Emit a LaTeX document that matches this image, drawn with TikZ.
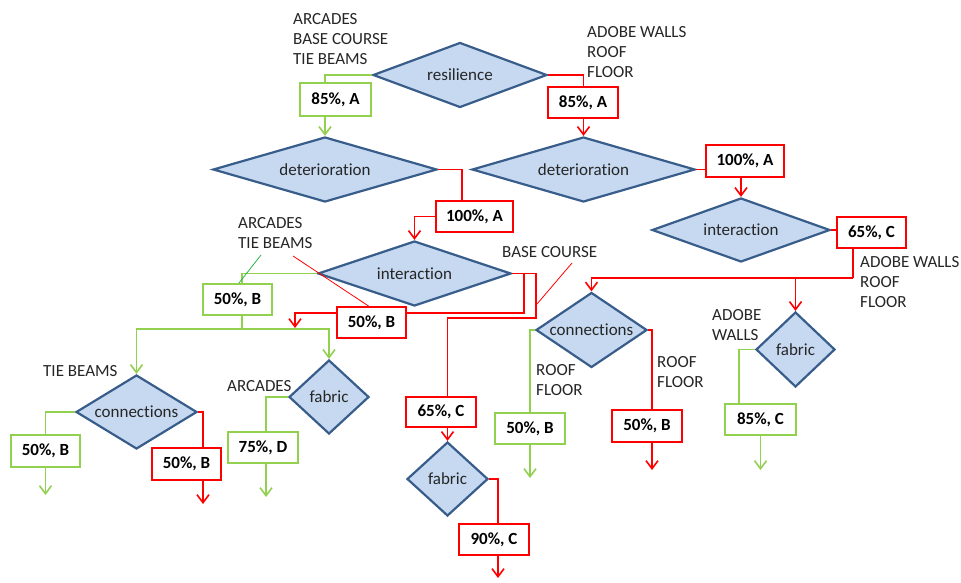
\documentclass[tikz,border=0pt]{standalone}
\usepackage{fontspec}
\setmainfont[Ligatures=NoCommon]{Carlito}
\usetikzlibrary{shapes.geometric,arrows.meta}
\definecolor{dfill}{RGB}{198,217,241}
\definecolor{ddraw}{RGB}{56,93,138}
\definecolor{gcol}{RGB}{146,208,80}
\definecolor{rcol}{RGB}{255,0,0}
\definecolor{tcol}{RGB}{38,38,38}
\definecolor{gthincol}{RGB}{40,180,70}
\tikzset{
  dia/.style n args={3}{shape=diamond, fill=dfill, draw=ddraw, line width=2.2pt, inner sep=0pt,
     minimum width=#1pt, minimum height=#2pt, aspect=#3, text=tcol, font=\fontsize{17}{20}\selectfont},
  gbox/.style n args={2}{draw=gcol, line width=2pt, fill=white, minimum width=#1pt, minimum height=#2pt,
     inner sep=0pt, font=\bfseries\fontsize{17}{20}\selectfont, text=black},
  rbox/.style n args={2}{draw=rcol, line width=2pt, fill=white, minimum width=#1pt, minimum height=#2pt,
     inner sep=0pt, font=\bfseries\fontsize{17}{20}\selectfont, text=black},
  gl/.style={draw=gcol, line width=1.6pt},
  rl/.style={draw=rcol, line width=1.6pt},
  ga/.style={gl, -{Straight Barb[length=8pt,width=12pt,line width=1.6pt]}},
  ra/.style={rl, -{Straight Barb[length=8pt,width=12pt,line width=1.6pt]}},
  gthin/.style={draw=gthincol, line width=0.8pt},
  rthin/.style={draw=rcol, line width=0.8pt},
  lab/.style={anchor=base west, inner sep=0pt, align=left, text=tcol, font=\fontsize{17}{20}\selectfont},
}
\begin{document}
\begin{tikzpicture}[x=1pt,y=-1pt]
\useasboundingbox[fill=white] (0,0) rectangle (961,583);
% diamonds
\node[dia={174}{65}{2.68}] (res) at (460,75) {resilience};
\node[dia={224}{65}{3.45}] (detL) at (325,169.5) {deterioration};
\node[dia={223}{65}{3.43}] (detR) at (583.5,169.5) {deterioration};
\node[dia={178}{64}{2.78}] (intR) at (741,230) {interaction};
\node[dia={193}{65}{2.97}] (intM) at (414.5,273.5) {interaction};
\node[dia={111}{75}{1.48}] (conM) at (591.5,330) {connections};
\node[dia={79}{75}{1.05}] (fabR) at (795.5,349.5) {fabric};
\node[dia={121}{74}{1.64}] (conL) at (136.5,412) {connections};
\node[dia={80}{74}{1.08}] (fabL) at (329,397) {fabric};
\node[dia={81}{74}{1.09}] (fabB) at (447.5,479) {fabric};
% boxes
\node[gbox={71}{33}] (g85a) at (335.5,99.5) {85\%, A};
\node[rbox={70}{31}] (r85a) at (583,102.5) {85\%, A};
\node[rbox={77}{31}] (r100m) at (474.5,216.5) {100\%, A};
\node[rbox={78}{32}] (r100r) at (745,161) {100\%, A};
\node[rbox={69}{31}] (r65r) at (871.5,232.5) {65\%, C};
\node[gbox={69}{31}] (g50m) at (237.5,299.5) {50\%, B};
\node[rbox={69}{31}] (r50m) at (371.5,322.5) {50\%, B};
\node[gbox={69}{32}] (g50l) at (45.5,451) {50\%, B};
\node[rbox={69}{32}] (r50l) at (186.5,464) {50\%, B};
\node[gbox={70}{31}] (g75d) at (263,447.5) {75\%, D};
\node[rbox={70}{30}] (r65m) at (441,412) {65\%, C};
\node[gbox={70}{31}] (g50c) at (530,428.5) {50\%, B};
\node[rbox={70}{32}] (r50c) at (647,426) {50\%, B};
\node[rbox={70}{31}] (r90c) at (494,539.5) {90\%, C};
\node[gbox={71}{31}] (g85c) at (760.5,419.5) {85\%, C};
% labels (anchor = baseline of last line)
\node[lab] (l1) at (293,65) {ARCADES\\BASE COURSE\\TIE BEAMS};
\node[lab] (l2) at (587,78) {ADOBE WALLS\\ROOF\\FLOOR};
\node[lab] (l3) at (238,248) {ARCADES\\TIE BEAMS};
\node[lab] (l4) at (502,257) {BASE COURSE};
\node[lab] (l5) at (860,307) {ADOBE WALLS\\ROOF\\FLOOR};
\node[lab] (l6) at (712,340) {ADOBE\\WALLS};
\node[lab] (l7) at (536,395) {ROOF\\FLOOR};
\node[lab] (l8) at (657,387) {ROOF\\FLOOR};
\node[lab] (l9) at (43,376) {TIE BEAMS};
\node[lab] (l10) at (227,391) {ARCADES};
% junction / free-end coordinates
\coordinate (j1) at (853,278);
\coordinate (j2) at (242,329);
\coordinate (j3) at (524,313);
\coordinate (j4) at (295,328);
\coordinate (j5) at (536,318);
\coordinate (e1) at (498,578);
\coordinate (e2) at (530,478);
\coordinate (e3) at (652,470);
\coordinate (e4) at (760.5,470);
\coordinate (e5) at (45.5,495);
\coordinate (e6) at (203,504);
\coordinate (e7) at (266,497);
\coordinate (p1) at (261,255);
\coordinate (p2) at (239,283);
\coordinate (p3) at (293,256);
\coordinate (p4) at (370,307);
\coordinate (p5) at (572,263);
\coordinate (p6) at (537,304);
% connectors
\draw[gl] (res.west) -| (g85a.north -| detL.north);
\draw[ga] (g85a.south -| detL.north) -- (detL.north);
\draw[rl] (res.east) -| (r85a.north -| detR.north);
\draw[ra] (r85a.south -| detR.north) -- (detR.north);
\draw[rl] (detL.east) -| ([xshift=-12.5pt]r100m.north);
\draw[ra] (r100m.west) -| (intM.north);
\draw[rl] (detR.east) -- (detR.east -| r100r.west);
\draw[ra] (r100r.south -| intR.north) -- (intR.north);
\draw[rl] (intR.east) -- (intR.east -| r65r.west);
\draw[rl] (j1 |- r65r.south) -- (j1);
\draw[ra] (j1) -| (conM.north);
\draw[ra] (j1 -| fabR.north) -- (fabR.north);
\draw[gl] (intM.west) -| (j2 |- g50m.north);
\draw[gl] (j2 |- g50m.south) -- (j2);
\draw[ga] (j2) -| (conL.north);
\draw[ga] (j2) -| (fabL.north);
\draw[rl] (intM.east) -| (j3) -- (j3 -| r50m.east);
\draw[ra] (r50m.west |- j3) -| (j4);
\draw[rl] (intM.east) -| (j5) -| ([xshift=6.5pt]r65m.north);
\draw[ra] ([xshift=6.5pt]r65m.south) -- (fabB.north);
\draw[rl] (fabB.east) -| (e1 |- r90c.north);
\draw[ra] (e1 |- r90c.south) -- (e1);
\draw[gl] (conM.west) -| (g50c.north);
\draw[ga] (g50c.south) -- (e2);
\draw[rl] (conM.east) -| (e3 |- r50c.north);
\draw[ra] (e3 |- r50c.south) -- (e3);
\draw[gl] (fabR.west) -| ([xshift=-21.5pt]g85c.north);
\draw[ga] (g85c.south) -- (e4);
\draw[gl] (conL.west) -| (g50l.north);
\draw[ga] (g50l.south) -- (e5);
\draw[rl] (conL.east) -| (e6 |- r50l.north);
\draw[ra] (e6 |- r50l.south) -- (e6);
\draw[gl] (fabL.west) -| (e7 |- g75d.north);
\draw[ga] (e7 |- g75d.south) -- (e7);
% pointer lines
\draw[gthin] (p1) -- (p2);
\draw[rthin] (p3) -- (p4);
\draw[rthin] (p5) -- (p6);
\end{tikzpicture}
\end{document}
